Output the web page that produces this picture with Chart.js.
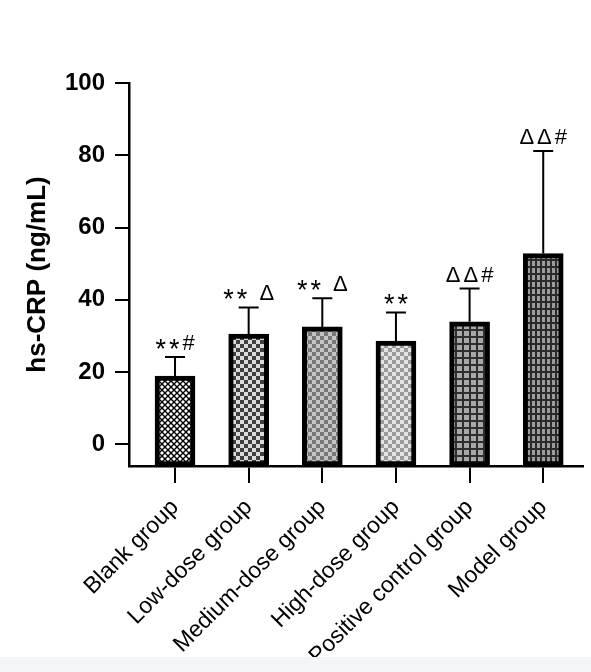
<!DOCTYPE html>
<html>
<head>
<meta charset="utf-8">
<script src="https://cdn.jsdelivr.net/npm/chart.js@4.4.1/dist/chart.umd.min.js"></script>
<style>
    html, body { margin: 0; padding: 0; background: #f4f5f7; }
    #wrap { width: 591px; height: 657px; background: #fff; }
</style>
</head>
<body>
<div id="wrap"><canvas id="crpChart" width="591" height="657"></canvas></div>
<script>
// hs-CRP by group
const categories = ['Blank group', 'Low-dose group', 'Medium-dose group', 'High-dose group', 'Positive control group', 'Model group'];
const means = [18.9, 30.5, 32.5, 28.6, 33.9, 52.8];
const sds = [5.3, 7.4, 7.9, 7.9, 9.2, 28.4];
const marks = ['**#', '** Δ', '** Δ', '**', 'ΔΔ#', 'ΔΔ#'];
const yTicks = [0, 20, 40, 60, 80, 100];

const FONT = '"Liberation Sans", Arial, sans-serif';

function makePattern(size, drawFn) {
    const c = document.createElement('canvas');
    c.width = size;
    c.height = size;
    const g = c.getContext('2d');
    drawFn(g, size);
    return g.createPattern(c, 'repeat');
}

function checker(dark, light, cell) {
    return makePattern(cell * 2, (g) => {
        g.fillStyle = light;
        g.fillRect(0, 0, cell * 2, cell * 2);
        g.fillStyle = dark;
        g.fillRect(0, 0, cell, cell);
        g.fillRect(cell, cell, cell, cell);
    });
}

function gridPattern(bg, line, w, h) {
    const c = document.createElement('canvas');
    c.width = w;
    c.height = h;
    const g = c.getContext('2d');
    g.fillStyle = bg;
    g.fillRect(0, 0, w, h);
    g.fillStyle = line;
    g.fillRect(0, 0, 2, h);
    g.fillRect(0, 0, w, 2);
    return g.createPattern(c, 'repeat');
}

const lattice = makePattern(6, (g, s) => {
    g.fillStyle = '#fff';
    g.fillRect(0, 0, s, s);
    g.strokeStyle = '#000';
    g.lineWidth = 1.4;
    g.beginPath();
    g.moveTo(0, 0); g.lineTo(s, s);
    g.moveTo(s, 0); g.lineTo(0, s);
    g.stroke();
});

const fills = [
    lattice,
    checker('#404040', '#dcdcdc', 4),
    checker('#777777', '#c4c4c4', 4),
    checker('#9a9a9a', '#e4e4e4', 4),
    gridPattern('#a8a8a8', '#2e2e2e', 7, 7),
    gridPattern('#9c9c9c', '#2a2a2a', 5, 7)
];

// draw a significance mark, asterisks a bit bigger and lowered like star glyphs
function drawMark(ctx, text, cx, baseY) {
    const normal = '22px ' + FONT;
    const star = '27px ' + FONT;
    const gap = 3;
    const parts = Array.from(text).map(ch => {
        ctx.font = ch === '*' ? star : normal;
        return { ch, w: ctx.measureText(ch).width };
    });
    const total = parts.reduce((s, p) => s + p.w, 0) + gap * (parts.length - 1);
    let x = cx - total / 2;
    ctx.textAlign = 'left';
    ctx.textBaseline = 'alphabetic';
    parts.forEach(p => {
        ctx.font = p.ch === '*' ? star : normal;
        ctx.fillText(p.ch, x, p.ch === '*' ? baseY + 8 : baseY);
        x += p.w + gap;
    });
}

const errorBars = {
    id: 'errorBars',
    afterDatasetsDraw(chart) {
        const ctx = chart.ctx;
        const x = chart.scales.x;
        const y = chart.scales.y;
        ctx.save();
        ctx.strokeStyle = '#000';
        ctx.lineWidth = 2;
        ctx.fillStyle = '#000';
        means.forEach((m, i) => {
            const px = x.getPixelForValue(i);
            const top = y.getPixelForValue(m + sds[i]);
            const base = y.getPixelForValue(m);
            ctx.beginPath();
            ctx.moveTo(px, base);
            ctx.lineTo(px, top);
            ctx.moveTo(px - 10, top);
            ctx.lineTo(px + 10, top);
            ctx.stroke();
            drawMark(ctx, marks[i], px, top - 7);
        });
        ctx.restore();
    }
};

new Chart(document.getElementById('crpChart'), {
    type: 'bar',
    data: {
        datasets: [{
            data: means.map((v, i) => ({ x: i, y: v })),
            backgroundColor: fills,
            borderColor: '#000',
            borderWidth: 5,
            borderSkipped: false,
            barThickness: 40,
            base: -6
        }]
    },
    options: {
        responsive: false,
        animation: false,
        devicePixelRatio: 1,
        layout: { padding: { top: 83, right: 8, left: 0, bottom: 0 } },
        plugins: {
            legend: { display: false },
            tooltip: { enabled: false }
        },
        scales: {
            x: {
                type: 'linear',
                offset: false,
                min: -0.625,
                max: 5.54,
                afterBuildTicks: (s) => { s.ticks = categories.map((_, i) => ({ value: i })); },
                afterFit: (s) => { s.height = 191; },
                border: { color: '#000', width: 2.5 },
                grid: { offset: false, drawOnChartArea: false, color: '#000', lineWidth: 2, tickLength: 17 },
                ticks: {
                    color: '#000',
                    font: { family: FONT, size: 23 },
                    minRotation: 45,
                    maxRotation: 45,
                    padding: 11,
                    callback: (v, i) => categories[i]
                }
            },
            y: {
                min: -6,
                max: 100,
                afterBuildTicks: (s) => { s.ticks = yTicks.map(v => ({ value: v })); },
                afterFit: (s) => { s.width = 129; },
                border: { color: '#000', width: 2.5 },
                grid: { drawOnChartArea: false, color: '#000', lineWidth: 2, tickLength: 14 },
                ticks: {
                    color: '#000',
                    font: { family: FONT, size: 24, weight: 'bold' },
                    padding: 10
                },
                title: {
                    display: true,
                    text: 'hs-CRP (ng/mL)',
                    color: '#000',
                    font: { family: FONT, size: 26, weight: 'bold' },
                    padding: { top: 22, bottom: 0 }
                }
            }
        }
    },
    plugins: [errorBars]
});
</script>
</body>
</html>
